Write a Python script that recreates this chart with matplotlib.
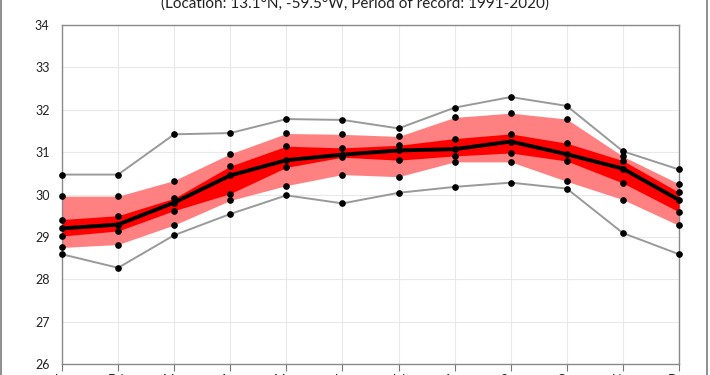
import matplotlib
matplotlib.use("Agg")
import matplotlib.pyplot as plt
from matplotlib.lines import Line2D
import numpy as np

plt.rcParams['font.family'] = ['Lato', 'DejaVu Sans']

months = ['Jan', 'Feb', 'Mar', 'Apr', 'May', 'Jun', 'Jul', 'Aug', 'Sep', 'Oct', 'Nov', 'Dec']

# values (deg C)
t_max = [30.47, 30.47, 31.42, 31.45, 31.78, 31.76, 31.56, 32.05, 32.30, 32.09, 31.02, 30.59]
light_hi = [29.96, 29.96, 30.33, 30.96, 31.44, 31.42, 31.37, 31.82, 31.92, 31.78, 30.90, 30.25]
dark_hi = [29.41, 29.50, 29.91, 30.67, 31.14, 31.10, 31.16, 31.32, 31.43, 31.21, 30.80, 30.05]
t_mean = [29.20, 29.29, 29.81, 30.45, 30.81, 30.94, 31.04, 31.07, 31.25, 30.95, 30.61, 29.87]
dark_lo = [29.02, 29.14, 29.62, 30.02, 30.64, 30.88, 30.81, 30.91, 30.98, 30.79, 30.27, 29.59]
light_lo = [28.75, 28.82, 29.28, 29.86, 30.21, 30.47, 30.42, 30.77, 30.77, 30.31, 29.88, 29.27]
t_min = [28.59, 28.27, 29.04, 29.54, 29.98, 29.79, 30.04, 30.18, 30.28, 30.14, 29.09, 28.59]

title = "(Location: 13.1°N, -59.5°W, Period of record: 1991-2020)"

x = np.arange(len(months))

fig = plt.figure(figsize=(7.1, 3.75), dpi=100)
ax = fig.add_axes([62 / 710, 11 / 375, 617 / 710, 339 / 375])

ax.fill_between(x, light_lo, light_hi, color='#ff8080', lw=0, zorder=2)
ax.fill_between(x, dark_lo, dark_hi, color='#ff0000', lw=0, zorder=3)

for s in [t_max, t_min]:
    ax.plot(x, s, color='#999999', lw=1.4, marker='o', ms=3.8,
            mfc='black', mec='black', zorder=4, clip_on=False)
for s in [light_hi, dark_hi, dark_lo, light_lo]:
    ax.plot(x, s, ls='none', marker='o', ms=3.8, color='black', zorder=5, clip_on=False)
ax.plot(x, t_mean, color='black', lw=2.8, marker='o', ms=3.8, zorder=6, clip_on=False)

ax.set_xlim(0, 11)
ax.set_ylim(26, 34)
ax.set_yticks(range(26, 35))
ax.set_xticks(x)
ax.set_xticklabels(months, fontsize=9)
ax.tick_params(axis='y', length=0, pad=9, labelsize=9, labelcolor='#222222')
ax.tick_params(axis='x', length=5, direction='out', color='#777777', pad=2,
               labelcolor='#222222')
ax.grid(True, color='#e8e8e8', lw=0.8, zorder=0)
ax.set_axisbelow(True)
for sp in ax.spines.values():
    sp.set_color('#8a8a8a')
    sp.set_linewidth(1.0)

fig.text(0.5, 1 - 8 / 375, title, ha='center', va='baseline', fontsize=11, color='#222222')

# outer chart frame (left / right edges visible in the crop)
fig.add_artist(Line2D([1.5 / 710, 1.5 / 710], [0, 1], color='#7a7a7a', lw=1.2))
fig.add_artist(Line2D([707 / 710, 707 / 710], [0, 1], color='#7a7a7a', lw=1.2))

fig.savefig('out.png', dpi=100)
